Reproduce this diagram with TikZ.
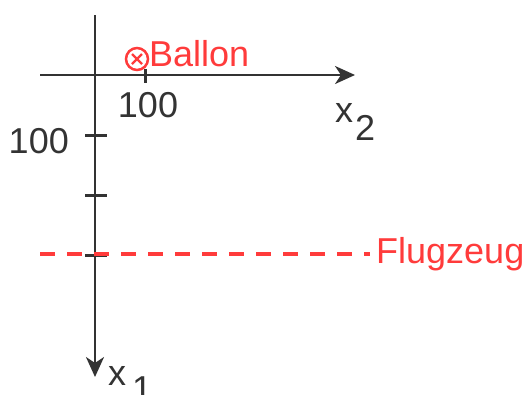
\documentclass[tikz,border=0pt]{standalone}
\usepackage{fontspec}
\setmainfont{Liberation Sans}
\usetikzlibrary{arrows.meta}
\definecolor{axisgray}{RGB}{51,51,51}
\definecolor{markred}{RGB}{255,59,59}
\begin{document}
\begin{tikzpicture}[x=1pt,y=-1pt,
node font=\fontsize{36}{40}\selectfont,
axis/.style={axisgray,line width=2.5pt,-{Stealth[length=20pt,width=18pt,inset=6pt]}},
tick/.style={axisgray,line width=3pt},
lbl/.style={text=axisgray,inner sep=0pt},
redlbl/.style={text=markred,inner sep=0pt},
balloon/.style={circle,draw=markred,line width=2.5pt,minimum size=22pt,inner sep=0pt},
flight/.style={markred,line width=4pt,dash pattern=on 15pt off 12pt}]
\useasboundingbox (0,0) rectangle (530,394);
% axes
\coordinate (x1start) at (95,15);
\coordinate (x1end) at (95,377);
\coordinate (x2start) at (40,75);
\coordinate (x2end) at (355,75);
\draw[axis] (x1start) -- (x1end);
\draw[axis] (x2start) -- (x2end);
\foreach \i in {1,2,3}
  \draw[tick] (85,75+60*\i) -- (107,75+60*\i);
\draw[tick] (145,69) -- (145,83);
\node[lbl,anchor=base east] (l100a) at (69,153) {100};
\node[lbl,anchor=base] (l100b) at (148,117) {100};
\node[lbl,anchor=base west] (lx2) at (335,122) {x\kern2pt\raisebox{-18pt}{2}};
\node[lbl,anchor=base west] (lx1) at (108,385) {x\kern6pt\raisebox{-16pt}{1}};
% Flugzeug
\coordinate (fstart) at (40,254);
\coordinate (fend) at (370,254);
\draw[flight] (fstart) -- (fend);
\node[redlbl,anchor=base west] (lflug) at (376,263) {Flugzeug};
% Ballon
\node[balloon] (ballon) at (137,59) {};
\draw[markred,line width=2.2pt] (ballon.center) ++(-5,-5) -- ++(10,10)
  (ballon.center) ++(5,-5) -- ++(-10,10);
\node[redlbl,anchor=base west] (lballon) at (149,66) {Ballon};
\end{tikzpicture}
\end{document}
